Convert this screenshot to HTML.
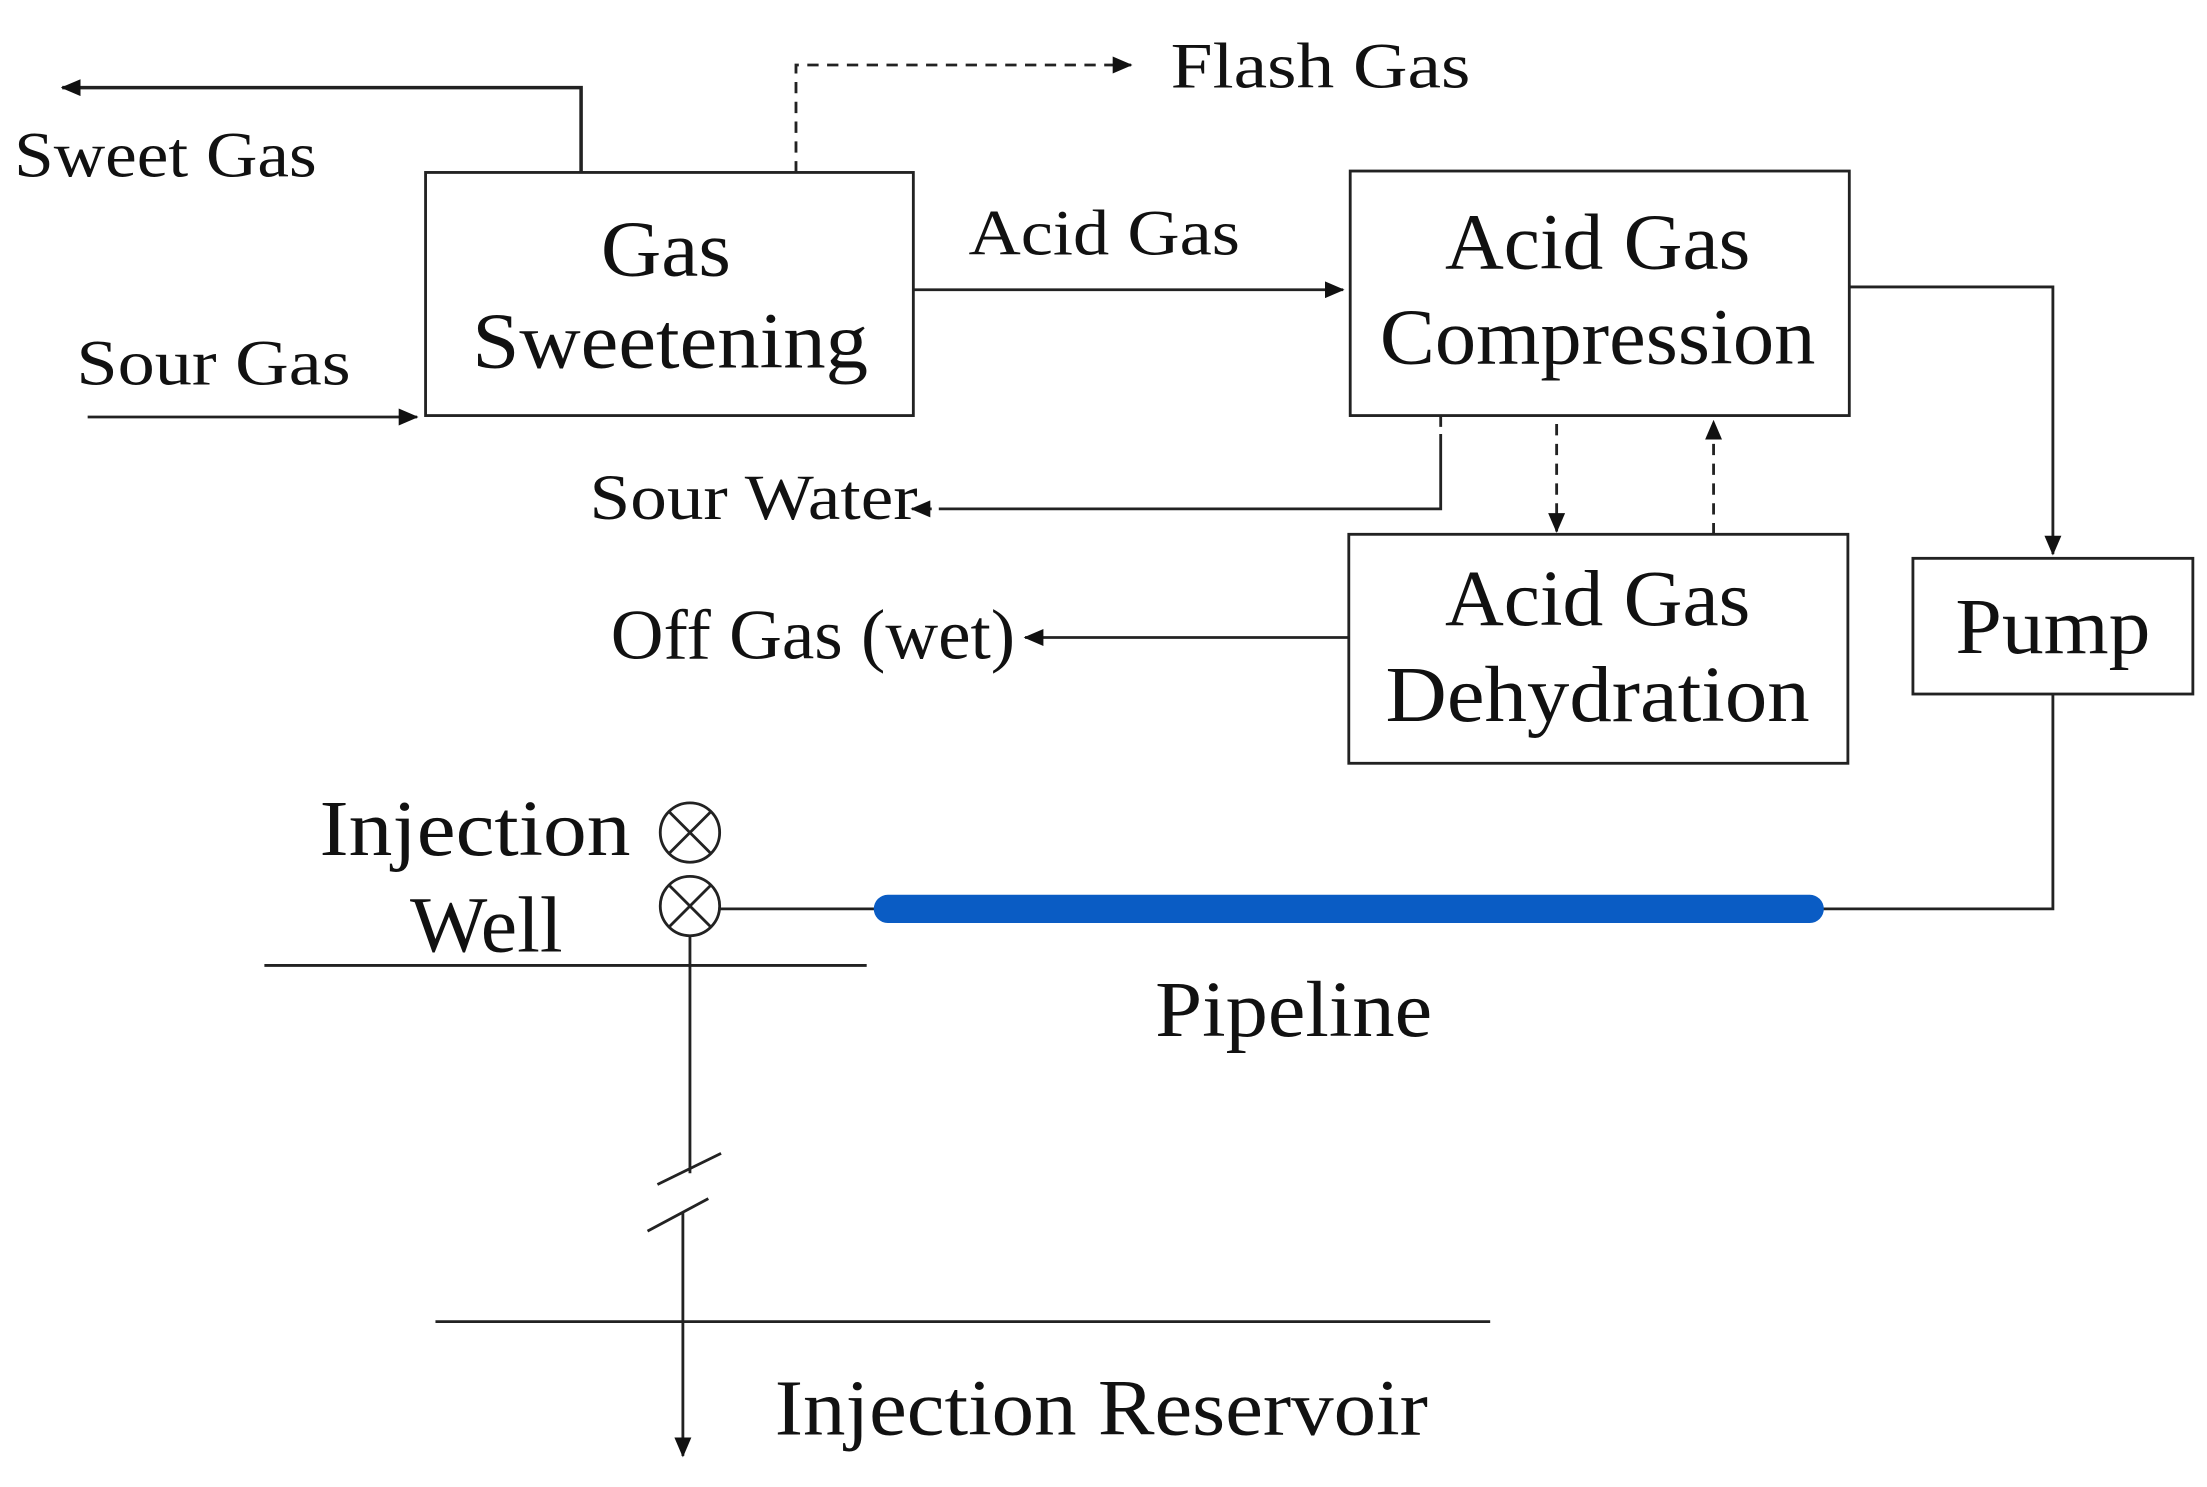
<!DOCTYPE html>
<html><head><style>html,body{margin:0;padding:0;background:#fff}svg{display:block}</style></head>
<body>
<svg width="2207" height="1487" viewBox="0 0 1561 1052" preserveAspectRatio="none" xmlns="http://www.w3.org/2000/svg">
<defs>
<marker id="a" markerWidth="14" markerHeight="12" refX="13" refY="6" orient="auto" markerUnits="userSpaceOnUse"><path d="M0,0 L14,6 L0,12 Z" fill="#111"/></marker>
</defs>
<g fill="none" stroke="#222" stroke-width="2">
<rect x="301" y="122" width="345" height="172"/>
<rect x="955" y="121" width="353" height="173"/>
<rect x="954" y="378" width="353" height="162"/>
<rect x="1353" y="395" width="198" height="96"/>
<polyline points="411,122 411,62 44,62" marker-end="url(#a)" stroke-width="2.5"/>
<polyline points="563,122 563,46 800,46" stroke-dasharray="8,6" marker-end="url(#a)"/>
<line x1="646" y1="205" x2="950" y2="205" marker-end="url(#a)"/>
<line x1="62" y1="295" x2="295" y2="295" marker-end="url(#a)"/>
<polyline points="1308,203 1452,203 1452,392" marker-end="url(#a)"/>
<polyline points="1019,294 1019,360 645,360" stroke-dasharray="8,5 400,0" marker-end="url(#a)"/>
<line x1="1101" y1="300" x2="1101" y2="376" stroke-dasharray="8,6" marker-end="url(#a)"/>
<line x1="1212" y1="378" x2="1212" y2="298" stroke-dasharray="8,6" marker-end="url(#a)"/>
<line x1="954" y1="451" x2="725" y2="451" marker-end="url(#a)"/>
<polyline points="1452,491 1452,643 1288,643"/>
<line x1="508" y1="643" x2="622" y2="643"/>
<circle cx="488" cy="589" r="21"/>
<circle cx="488" cy="641" r="21"/>
<line x1="473" y1="574" x2="503" y2="604"/><line x1="503" y1="574" x2="473" y2="604"/>
<line x1="473" y1="626" x2="503" y2="656"/><line x1="503" y1="626" x2="473" y2="656"/>
<line x1="187" y1="683" x2="613" y2="683"/>
<line x1="488" y1="662" x2="488" y2="830"/>
<line x1="465" y1="838" x2="510" y2="816"/>
<line x1="458" y1="871" x2="501" y2="848"/>
<line x1="483" y1="858" x2="483" y2="1030" marker-end="url(#a)"/>
<line x1="308" y1="935" x2="1054" y2="935"/>
</g>
<line x1="628" y1="643" x2="1280" y2="643" stroke="#0a5cc4" stroke-width="20" stroke-linecap="round"/>
<g font-family="Liberation Serif, serif" fill="#111">
<text x="828" y="62" font-size="46" textLength="212" lengthAdjust="spacingAndGlyphs">Flash Gas</text>
<text x="10" y="125" font-size="46" textLength="214" lengthAdjust="spacingAndGlyphs">Sweet Gas</text>
<text x="685" y="180" font-size="46" textLength="192" lengthAdjust="spacingAndGlyphs">Acid Gas</text>
<text x="54" y="272" font-size="46" textLength="194" lengthAdjust="spacingAndGlyphs">Sour Gas</text>
<text x="417" y="367" font-size="46" textLength="232" lengthAdjust="spacingAndGlyphs">Sour Water</text>
<text x="432" y="466" font-size="50" textLength="286" lengthAdjust="spacingAndGlyphs">Off Gas (wet)</text>
<g font-size="56" text-anchor="middle">
<text x="471" y="195" textLength="92" lengthAdjust="spacingAndGlyphs">Gas</text>
<text x="474" y="260" textLength="280" lengthAdjust="spacingAndGlyphs">Sweetening</text>
<text x="1130" y="190" textLength="216" lengthAdjust="spacingAndGlyphs">Acid Gas</text>
<text x="1130" y="257" textLength="308" lengthAdjust="spacingAndGlyphs">Compression</text>
<text x="1130" y="442" textLength="216" lengthAdjust="spacingAndGlyphs">Acid Gas</text>
<text x="1130" y="510" textLength="300" lengthAdjust="spacingAndGlyphs">Dehydration</text>
<text x="1452" y="462" textLength="138" lengthAdjust="spacingAndGlyphs">Pump</text>
</g>
<text x="226" y="605" font-size="56" textLength="220" lengthAdjust="spacingAndGlyphs">Injection</text>
<text x="290" y="673" font-size="56" textLength="108" lengthAdjust="spacingAndGlyphs">Well</text>
<text x="817" y="733" font-size="56" textLength="196" lengthAdjust="spacingAndGlyphs">Pipeline</text>
<text x="548" y="1015" font-size="56" textLength="462" lengthAdjust="spacingAndGlyphs">Injection Reservoir</text>
</g>
</svg>
</body></html>
